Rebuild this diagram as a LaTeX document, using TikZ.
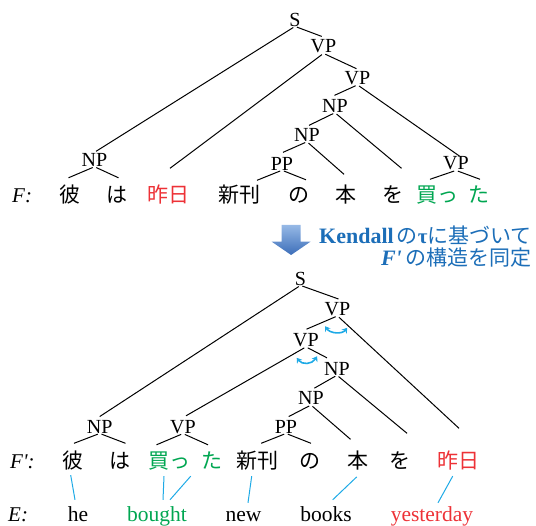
\documentclass[tikz,border=0pt]{standalone}
\usepackage{fontspec}
\setmainfont{Liberation Serif}
\newfontfamily\jp{Noto Sans CJK JP}
\usetikzlibrary{arrows.meta}
\definecolor{myred}{RGB}{237,50,55}
\definecolor{mygreen}{RGB}{0,166,81}
\definecolor{mycyan}{RGB}{30,170,230}
\definecolor{myblue}{RGB}{28,110,184}
\definecolor{arrtop}{RGB}{150,185,230}
\definecolor{arrbot}{RGB}{60,110,185}
\begin{document}
\begin{tikzpicture}[x=1pt,y=-1pt,
 lab/.style={inner sep=0pt, font=\fontsize{20}{20}\selectfont},
 jw/.style={inner sep=0pt, anchor=base, text height=18pt, text depth=2pt, font=\jp\fontsize{21}{21}\selectfont},
 ew/.style={inner sep=0pt, anchor=base, text height=15pt, text depth=5pt, font=\fontsize{21.5}{21.5}\selectfont},
 fl/.style={inner sep=0pt, anchor=base west, font=\fontsize{21}{21}\selectfont\itshape},
 br/.style={line width=1pt, shorten <=2pt},
 al/.style={mycyan, line width=1pt},
 sw/.style={mycyan, line width=1.6pt, {Stealth[length=5pt,width=6.5pt]}-{Stealth[length=5pt,width=6.5pt]}},
]
\useasboundingbox (0,0) rectangle (536,526);

% ---------- top tree ----------
\node[lab] (S1)  at (295,19.5) {S};
\node[lab] (VPa) at (323.5,46.5) {VP};
\node[lab] (VPb) at (357.5,78) {VP};
\node[lab] (NPc) at (335,106) {NP};
\node[lab] (NPd) at (307,135) {NP};
\node[lab] (PPe) at (282,163.5) {PP};
\node[lab] (NPf) at (94.5,160) {NP};
\node[lab] (VPg) at (456,163.5) {VP};

\node[fl] (F1) at (12,202.5) {F:};
\node[jw] (a1) at (70,202.5) {彼};
\node[jw] (a2) at (117,202.5) {は};
\node[jw,text=myred] (a3) at (168,202.5) {昨日};
\node[jw] (a4) at (239,202.5) {新刊};
\node[jw] (a5) at (299,202.5) {の};
\node[jw] (a6) at (346,202.5) {本};
\node[jw] (a7) at (393,202.5) {を};
\node[jw,text=mygreen] (a8) at (437,202.5) {買っ};
\node[jw,text=mygreen] (a9) at (479,202.5) {た};

\draw[br] (S1.south) -- ([xshift=-1.8pt,yshift=3.2pt]VPa.north);
\draw[br] (S1.south) -- ([xshift=1.5pt,yshift=1.9pt]NPf.north);
\draw[br] (VPa.south) -- ([xshift=2pt,yshift=16pt]a3.north);
\draw[br] (VPa.south) -- ([xshift=-1pt,yshift=2.4pt]VPb.north);
\draw[br] (VPb.south) -- ([xshift=-0.5pt,yshift=3.9pt]NPc.north);
\draw[br] (VPb.south) -- ([xshift=3.5pt,yshift=0.5pt]VPg.north);
\draw[br] (NPc.south) -- ([xshift=2pt,yshift=2.9pt]NPd.north);
\draw[br] (NPc.south) -- ([xshift=8.5pt,yshift=16pt]a7.north);
\draw[br] (NPd.south) -- ([xshift=1pt,yshift=4.4pt]PPe.north);
\draw[br] (NPd.south) -- ([xshift=-2pt,yshift=10pt]a6.north);
\draw[br] (PPe.south) -- ([xshift=18pt,yshift=4pt]a4.north);
\draw[br] (PPe.south) -- ([xshift=7pt,yshift=4.5pt]a5.north);
\draw[br] (NPf.south) -- ([xshift=-1.5pt,yshift=6.5pt]a1.north);
\draw[br] (NPf.south) -- ([xshift=1.5pt,yshift=6.5pt]a2.north);
\draw[br] (VPg.south) -- ([xshift=-7pt,yshift=5pt]a8.north);
\draw[br] (VPg.south) -- ([xshift=1pt,yshift=5pt]a9.north);

% ---------- arrow and caption ----------
\shade[top color=arrtop, bottom color=arrbot]
  (281.7,225) -- (300.5,225) -- (300.5,241.7) -- (310.5,241.7) -- (291.1,255)
  -- (271.7,241.7) -- (281.7,241.7) -- cycle;
\node[anchor=base east, inner sep=0pt, text=myblue] (t1) at (532,243.5)
  {{\fontsize{22}{22}\selectfont\bfseries Kendall}\hspace{3pt}{\jp\fontsize{21}{21}\selectfont の}{\fontsize{21}{21}\selectfont\bfseries τ}{\jp\fontsize{21}{21}\selectfont に基づいて}};
\node[anchor=base east, inner sep=0pt, text=myblue] (t2) at (532,266)
  {{\fontsize{22}{22}\selectfont\bfseries\itshape F\textquotesingle}\hspace{4pt}{\jp\fontsize{21}{21}\selectfont の構造を同定}};

% ---------- bottom tree ----------
\node[lab] (S2)   at (300.5,278.5) {S};
\node[lab] (VPt)  at (337.5,309) {VP};
\node[lab] (VPm)  at (306,340) {VP};
\node[lab] (NPc2) at (337,368.5) {NP};
\node[lab] (NPd2) at (311,398.3) {NP};
\node[lab] (PP2)  at (286,426.7) {PP};
\node[lab] (NP2)  at (99.7,426.7) {NP};
\node[lab] (VP2)  at (183,426.7) {VP};

\node[fl] (F2) at (10,468.5) {F\textquotesingle:};
\node[jw] (b1) at (73,468.5) {彼};
\node[jw] (b2) at (119.5,468.5) {は};
\node[jw,text=mygreen] (b3) at (169.5,468.5) {買っ};
\node[jw,text=mygreen] (b4) at (212,468.5) {た};
\node[jw] (b5) at (257.5,468.5) {新刊};
\node[jw] (b6) at (310,468.5) {の};
\node[jw] (b7) at (358,468.5) {本};
\node[jw] (b8) at (400,468.5) {を};
\node[jw,text=myred] (b9) at (458,468.5) {昨日};

\draw[br] (S2.south) -- ([xshift=1pt,yshift=3.1pt]VPt.north);
\draw[br] (S2.south) -- ([xshift=0pt,yshift=3.4pt]NP2.north);
\draw[br] (VPt.south) -- ([xshift=0.5pt,yshift=3.9pt]VPm.north);
\draw[br] (VPt.south) -- ([xshift=1pt,yshift=22pt]b9.north);
\draw[br] (VPm.south) -- ([xshift=3pt,yshift=4pt]VP2.north);
\draw[br] (VPm.south) -- ([xshift=-10pt,yshift=3.9pt]NPc2.north);
\draw[br] (NPc2.south) -- ([xshift=3.4pt,yshift=3.4pt]NPd2.north);
\draw[br] (NPc2.south) -- ([xshift=7pt,yshift=17pt]b8.north);
\draw[br] (NPd2.south) -- ([xshift=2.7pt,yshift=3.4pt]PP2.north);
\draw[br] (NPd2.south) -- ([xshift=-7.5pt,yshift=11pt]b7.north);
\draw[br] (PP2.south) -- ([xshift=3.7pt,yshift=7pt]b5.north);
\draw[br] (PP2.south) -- ([xshift=1pt,yshift=7pt]b6.north);
\draw[br] (NP2.south) -- ([xshift=1pt,yshift=7pt]b1.north);
\draw[br] (NP2.south) -- ([xshift=6pt,yshift=7pt]b2.north);
\draw[br] (VP2.south) -- ([xshift=-13pt,yshift=5.5pt]b3.north);
\draw[br] (VP2.south) -- ([xshift=-4pt,yshift=5.5pt]b4.north);

% swap arrows
\draw[sw] (325,326.2) .. controls (330,333.5) and (342,334.5) .. (347.2,327.8);
\draw[sw] (296.7,357.8) .. controls (302,365) and (312,364.5) .. (317.2,356.2);

% ---------- English row ----------
\node[fl, anchor=base west] (E) at (8,521.5) {E:};
\node[ew] (e1) at (78,521.5) {he};
\node[ew,text=mygreen] (e2) at (157,521.5) {bought};
\node[ew] (e3) at (243.5,521.5) {new};
\node[ew] (e4) at (326,521.5) {books};
\node[ew,text=myred] (e5) at (432,521.5) {yesterday};

\draw[al] ([xshift=-2.3pt,yshift=-4.5pt]b1.south) -- ([xshift=-3pt,yshift=6.5pt]e1.north);
\draw[al] ([xshift=-5.5pt,yshift=-5.5pt]b3.south) -- ([xshift=6pt,yshift=6.5pt]e2.north);
\draw[al] ([xshift=-21.3pt,yshift=-5.5pt]b4.south) -- ([xshift=13pt,yshift=6.5pt]e2.north);
\draw[al] ([xshift=-5.8pt,yshift=-5.5pt]b5.south) -- ([xshift=4.5pt,yshift=3.5pt]e3.north);
\draw[al] ([xshift=-1.3pt,yshift=-6.2pt]b7.south) -- ([xshift=6.7pt,yshift=6.5pt]e4.north);
\draw[al] ([xshift=-5.3pt,yshift=-5.5pt]b9.south) -- ([xshift=6pt,yshift=3.5pt]e5.north);
\end{tikzpicture}
\end{document}
